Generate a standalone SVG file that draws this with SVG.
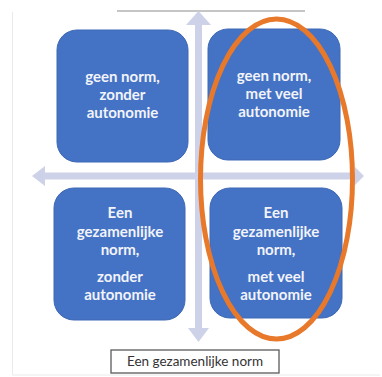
<svg xmlns="http://www.w3.org/2000/svg" width="382" height="377" viewBox="0 0 382 377">
  <style>
    .box { fill: #4472C4; stroke: #3E68B5; stroke-width: 1; }
    .lbl { font-family: Lato, "Open Sans", sans-serif; font-weight: bold; font-size: 15px; fill: #F2F4FA; text-anchor: middle; }
    .axis { fill: #CDD2E9; }
    .caption { font-family: Lato, "Open Sans", sans-serif; font-size: 13.5px; fill: #333333; text-anchor: middle; }
  </style>
  <rect width="382" height="377" fill="#FFFFFF"/>
  <!-- faint frame -->
  <path d="M12.5 12 V375 H380" fill="none" stroke="#EAEAEA" stroke-width="1"/>
  <line x1="117" y1="11" x2="305" y2="11" stroke="#8C8C8C" stroke-width="1"/>

  <g id="connectors">
    <!-- vertical axis, double-headed -->
    <path class="axis" d="M198.5 11 L211 25 L202 25 L202 328 L209 328 L198.5 342 L188 328 L195 328 L195 25 L186 25 Z"/>
    <!-- horizontal axis, double-headed -->
    <path class="axis" d="M32 176 L45 166 L45 172.5 L355 172.5 L355 167 L364 176 L355 185 L355 179.5 L45 179.5 L45 186 Z"/>
  </g>

  <g id="q-top-left">
    <rect class="box" x="57" y="30" width="131" height="132" rx="20"/>
    <text class="lbl" x="122.5" y="82">geen norm,</text>
    <text class="lbl" x="122.5" y="100">zonder</text>
    <text class="lbl" x="122.5" y="118">autonomie</text>
  </g>
  <g id="q-top-right">
    <rect class="box" x="208" y="29" width="132" height="131" rx="20"/>
    <text class="lbl" x="274" y="81">geen norm,</text>
    <text class="lbl" x="274" y="99">met veel</text>
    <text class="lbl" x="274" y="117">autonomie</text>
  </g>
  <g id="q-bottom-left">
    <rect class="box" x="54" y="188" width="131" height="132" rx="20"/>
    <text class="lbl" x="120" y="218">Een</text>
    <text class="lbl" x="120" y="237">gezamenlijke</text>
    <text class="lbl" x="120" y="255">norm,</text>
    <text class="lbl" x="120" y="282">zonder</text>
    <text class="lbl" x="120" y="300">autonomie</text>
  </g>
  <g id="q-bottom-right">
    <rect class="box" x="210" y="188" width="132" height="130" rx="20"/>
    <text class="lbl" x="276" y="218">Een</text>
    <text class="lbl" x="276" y="237">gezamenlijke</text>
    <text class="lbl" x="276" y="255">norm,</text>
    <text class="lbl" x="276" y="282">met veel</text>
    <text class="lbl" x="276" y="300">autonomie</text>
  </g>

  <g id="highlight">
    <ellipse cx="276.5" cy="179" rx="76" ry="160" fill="none" stroke="#E8782A" stroke-width="5"/>
  </g>

  <g id="axis-label">
    <rect x="111" y="350" width="168" height="23" fill="#FFFFFF" stroke="#5A5A5A" stroke-width="1.3"/>
    <text class="caption" x="195" y="366">Een gezamenlijke norm</text>
  </g>
</svg>
